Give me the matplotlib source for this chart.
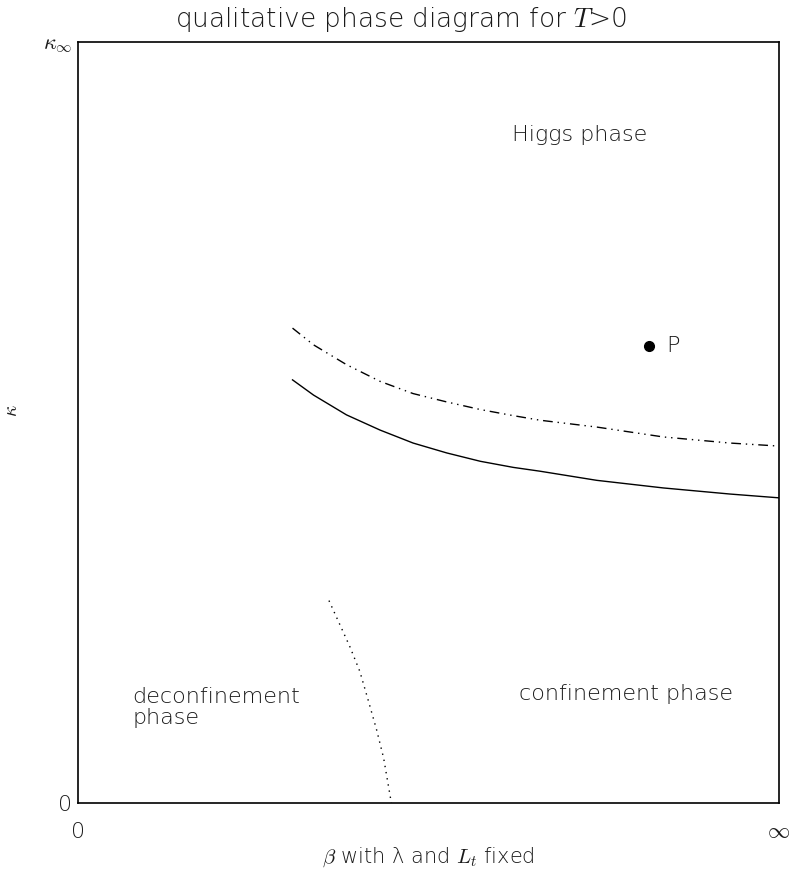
import numpy as np
import matplotlib.pyplot as plt

plt.rcParams['mathtext.fontset'] = 'cm'
plt.rcParams['font.family'] = ['DejaVu Sans']

# phase boundaries in normalised (beta, kappa) units
solid_beta = [0.306, 0.336, 0.383, 0.431, 0.478, 0.526, 0.574, 0.621, 0.659,
              0.740, 0.835, 0.930, 1.0]
solid_kappa = [0.556, 0.536, 0.510, 0.490, 0.473, 0.460, 0.449, 0.441, 0.436,
               0.424, 0.414, 0.406, 0.401]

dashdot_beta = [0.306, 0.336, 0.383, 0.431, 0.478, 0.526, 0.574, 0.621, 0.659,
                0.740, 0.835, 0.930, 1.0]
dashdot_kappa = [0.624, 0.602, 0.576, 0.554, 0.538, 0.527, 0.517, 0.509, 0.503,
                 0.494, 0.481, 0.473, 0.469]

dotted_beta = [0.358, 0.388, 0.402, 0.414, 0.426, 0.436, 0.447]
dotted_kappa = [0.266, 0.205, 0.173, 0.135, 0.096, 0.059, 0.0]

point_p = (0.815, 0.600)

fig = plt.figure(figsize=(8.02, 8.74), dpi=100)
ax = fig.add_axes([0.0973, 0.0812, 0.874, 0.8708])

ax.plot(solid_beta, solid_kappa, color='black', lw=1.0)
ax.plot(dashdot_beta, dashdot_kappa, color='black', lw=1.0,
        linestyle=(0, (7, 3.5, 1, 3.5, 1, 3.5)))
ax.plot(dotted_beta, dotted_kappa, color='black', lw=1.0, linestyle=(0, (1, 3.5)))
ax.plot(*point_p, 'o', color='black', ms=7)

ink = '#1a1a1a'
txt = dict(fontsize=16, color=ink, fontweight='light')
ax.text(point_p[0] + 0.024, point_p[1], 'P', va='center', ha='left', **txt)
ax.text(0.716, 0.878, 'Higgs phase', ha='center', va='center', **txt)
ax.text(0.078, 0.125, 'deconfinement\nphase', ha='left', va='center',
        linespacing=1.05, **txt)
ax.text(0.782, 0.143, 'confinement phase', ha='center', va='center', **txt)

ax.set_xlim(0, 1)
ax.set_ylim(0, 1)
ax.set_xticks([0, 1])
ax.set_xticklabels(['0', r'$\infty$'])
ax.set_yticks([0, 1])
ax.set_yticklabels(['0', r'$\kappa_{\infty}$'])
ax.tick_params(direction='in', length=0, labelsize=16, labelcolor=ink)
ax.tick_params(axis='x', pad=14)
ax.tick_params(axis='y', pad=4)
for label in ax.get_xticklabels() + ax.get_yticklabels():
    label.set_fontweight('light')
for s in ax.spines.values():
    s.set_linewidth(1.2)

fig.text(0.5, 0.978, r'qualitative phase diagram for $T$>0', fontsize=19,
         color=ink, fontweight='light', ha='center', va='center')
ax.set_xlabel(r'$\beta$ with λ and $L_t$ fixed', fontsize=15, color=ink,
              fontweight='light', labelpad=2)
ax.set_ylabel(r'$\kappa$', fontsize=14, color=ink)
ax.yaxis.set_label_coords(-0.082, 0.516)

fig.savefig('out.png', dpi=100)
